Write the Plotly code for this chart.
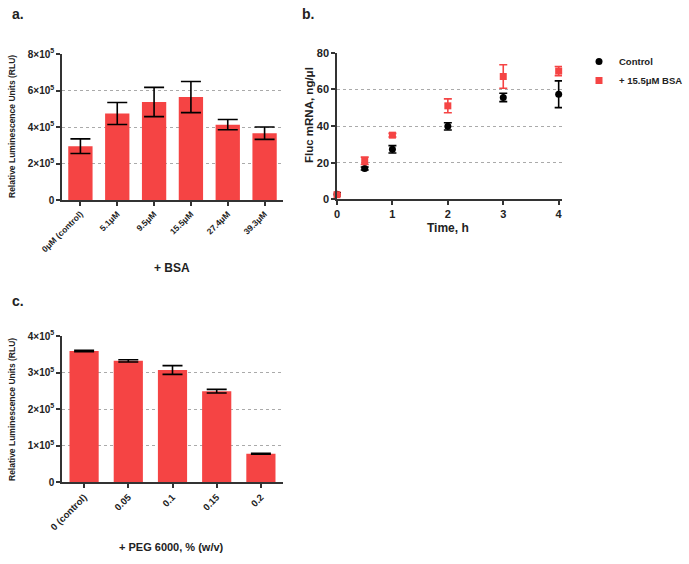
import plotly.graph_objects as go

# ---------------- data ----------------
bsa_labels = ["0μM (control)", "5.1μM", "9.5μM", "15.5μM", "27.4μM", "39.3μM"]
bsa_rlu = [2.95e5, 4.74e5, 5.37e5, 5.64e5, 4.13e5, 3.66e5]
bsa_err = [0.40e5, 0.60e5, 0.80e5, 0.85e5, 0.28e5, 0.34e5]

time_h = [0, 0.5, 1, 2, 3, 4]
ctrl_mrna = [2.8, 16.8, 27.3, 39.8, 55.6, 57.3]
ctrl_err = [0.8, 0.8, 2.0, 2.0, 2.3, 7.3]
bsa_mrna = [2.5, 21.0, 35.0, 51.0, 67.0, 70.0]
bsa_err_b = [0.5, 2.0, 1.0, 3.8, 6.4, 2.5]

peg_labels = ["0 (control)", "0.05", "0.1", "0.15", "0.2"]
peg_rlu = [3.59e5, 3.32e5, 3.07e5, 2.49e5, 0.78e5]
peg_err = [0.02e5, 0.03e5, 0.12e5, 0.05e5, 0.01e5]

ya_vals = [0, 2e5, 4e5, 6e5, 8e5]
ya_text = ["0", "2×10<sup>5</sup>", "4×10<sup>5</sup>", "6×10<sup>5</sup>", "8×10<sup>5</sup>"]
yb_vals = [0, 20, 40, 60, 80]
xb_vals = [0, 1, 2, 3, 4]
yc_vals = [0, 1e5, 2e5, 3e5, 4e5]
yc_text = ["0", "1×10<sup>5</sup>", "2×10<sup>5</sup>", "3×10<sup>5</sup>", "4×10<sup>5</sup>"]

# ---------------- layout helpers ----------------
W, H = 689, 564
FONT = "Liberation Sans, Arial, sans-serif"
RED = "#f54444"
AX = "#333333"

def xd(a, b):
    return [a / W, b / W]

def yd(top, bottom):
    return [1 - bottom / H, 1 - top / H]

def px(x):
    return x / W

def py(y):
    return 1 - y / H

fig = go.Figure()

fig.add_trace(go.Bar(
    x=list(range(len(bsa_labels))), y=bsa_rlu, marker=dict(color=RED, line=dict(width=0)),
    error_y=dict(type="data", array=bsa_err, color="black", thickness=1.6, width=10),
    xaxis="x", yaxis="y", showlegend=False))

fig.add_trace(go.Scatter(
    x=time_h, y=ctrl_mrna, mode="markers", name="Control",
    marker=dict(symbol="circle", size=7, color="black"),
    error_y=dict(type="data", array=ctrl_err, color="black", thickness=1.6, width=4),
    xaxis="x2", yaxis="y2", cliponaxis=False))

fig.add_trace(go.Scatter(
    x=time_h, y=bsa_mrna, mode="markers", name="+ 15.5μM BSA",
    marker=dict(symbol="square", size=7, color=RED),
    error_y=dict(type="data", array=bsa_err_b, color=RED, thickness=1.6, width=4),
    xaxis="x2", yaxis="y2", cliponaxis=False))

fig.add_trace(go.Bar(
    x=list(range(len(peg_labels))), y=peg_rlu, marker=dict(color=RED, line=dict(width=0)),
    error_y=dict(type="data", array=peg_err, color="black", thickness=1.6, width=10),
    xaxis="x3", yaxis="y3", showlegend=False))

common_y = dict(showline=True, linecolor=AX, linewidth=1.5, ticks="outside", ticklen=4,
                tickcolor=AX, tickwidth=1.5, showgrid=True, gridcolor="#aaaaaa",
                griddash="dot", gridwidth=1, zeroline=False, automargin=False)
common_x = dict(showline=True, linecolor=AX, linewidth=1.5, ticks="outside", ticklen=4,
                tickcolor=AX, tickwidth=1.5, showgrid=False, zeroline=False, automargin=False)

fig.update_layout(
    width=W, height=H, margin=dict(l=0, r=0, t=0, b=0, autoexpand=False),
    paper_bgcolor="white", plot_bgcolor="white",
    font=dict(family=FONT, color="#222222", weight="bold"),
    bargap=0.34,
    xaxis=dict(domain=xd(62, 283), range=[-0.5, 5.5], anchor="y",
               tickvals=list(range(len(bsa_labels))), ticktext=bsa_labels,
               tickangle=-45, tickfont=dict(size=8.5, weight="bold"), **common_x),
    yaxis=dict(domain=yd(54, 200), range=[0, 8e5], anchor="x",
               tickvals=ya_vals, ticktext=ya_text, tickfont=dict(size=10, weight="bold"), **common_y),
    xaxis2=dict(domain=xd(337, 562), range=[0, 4.06], anchor="y2",
                tickvals=xb_vals, tickfont=dict(size=11, weight="bold"), **common_x),
    yaxis2=dict(domain=yd(52.7, 199.3), range=[0, 80], anchor="x2",
                tickvals=yb_vals, tickfont=dict(size=11, weight="bold"), **common_y),
    xaxis3=dict(domain=xd(62, 283), range=[-0.5, 4.5], anchor="y3",
                tickvals=list(range(len(peg_labels))), ticktext=peg_labels,
                tickangle=-45, tickfont=dict(size=9.5, weight="bold"), **common_x),
    yaxis3=dict(domain=yd(336, 482.3), range=[0, 4e5], anchor="x3",
                tickvals=yc_vals, ticktext=yc_text, tickfont=dict(size=10, weight="bold"), **common_y),
    legend=dict(x=px(579), y=py(47), xanchor="left", yanchor="top",
                font=dict(size=9.5, weight="bold"), itemsizing="trace",
                bgcolor="rgba(0,0,0,0)", tracegroupgap=0),
)

ann = []
def text(x, y, s, size, angle=0):
    ann.append(dict(x=px(x), y=py(y), xref="paper", yref="paper", text=s, showarrow=False,
                    font=dict(size=size, family=FONT, weight="bold", color="#222222"),
                    textangle=angle, xanchor="center", yanchor="middle"))

text(18, 14, "a.", 14)
text(308, 14, "b.", 14)
text(18, 301, "c.", 14)
text(12, 127, "Relative Luminescence Units (RLU)", 8.5, -90)
text(12, 410, "Relative Luminescence Units (RLU)", 8.5, -90)
text(309, 115, "Fluc mRNA, ng/μl", 11.5, -90)
text(172, 268, "+ BSA", 12)
text(448, 228, "Time, h", 12)
text(171, 547, "+ PEG 6000, % (w/v)", 11)

fig.update_layout(annotations=ann)
fig.write_html("out.html", config={"displayModeBar": False},
               post_script="document.body.style.margin='0px';document.body.style.overflow='hidden';")
